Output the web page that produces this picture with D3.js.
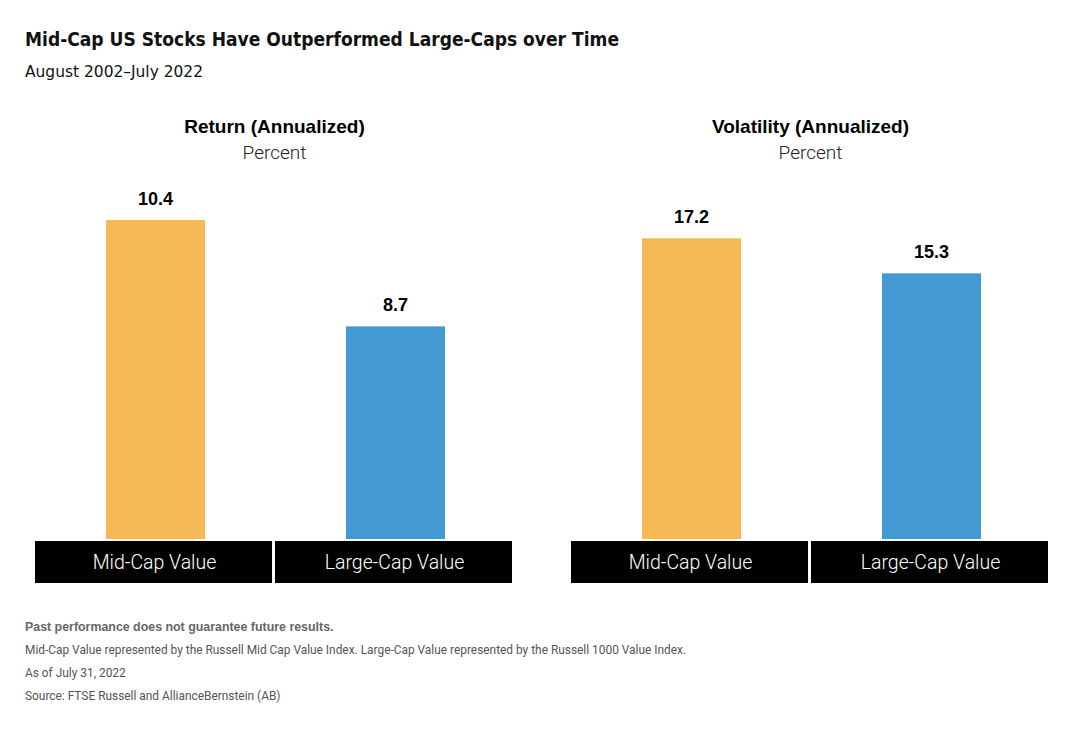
<!DOCTYPE html>
<html lang="en">
<head>
    <meta charset="UTF-8">
    <title>Mid-Cap vs Large-Cap</title>
    <script src="https://d3js.org/d3.v7.min.js"></script>
    <style>
        body { margin: 0; background: #fff; }
        svg { display: block; }
    </style>
</head>
<body>
    <svg id="chart" width="1070" height="740"></svg>
<script>
    const categories = ["Mid-Cap Value", "Large-Cap Value"];
    const returnValues = [10.4, 8.7];
    const volatilityValues = [17.2, 15.3];
    const returnDomain = [5.3, 11.2];
    const volatilityDomain = [0.9, 20.9];
    const panelTitles = ["Return (Annualized)", "Volatility (Annualized)"];
    const notes = [
        "Mid-Cap Value represented by the Russell Mid Cap Value Index. Large-Cap Value represented by the Russell 1000 Value Index.",
        "As of July 31, 2022",
        "Source: FTSE Russell and AllianceBernstein (AB)"
    ];

    const colors = ["#F5BA56", "#4499D2"];
    const svg = d3.select("#chart");

    // header
    svg.append("text")
        .attr("x", 25).attr("y", 46)
        .attr("font-family", "DejaVu Sans Condensed, DejaVu Sans")
        .attr("font-weight", "bold")
        .attr("font-size", 20)
        .attr("textLength", 594)
        .attr("lengthAdjust", "spacingAndGlyphs")
        .attr("fill", "#111")
        .text("Mid-Cap US Stocks Have Outperformed Large-Caps over Time");

    svg.append("text")
        .attr("x", 25).attr("y", 77)
        .attr("font-family", "DejaVu Sans Condensed, DejaVu Sans")
        .attr("font-size", 16)
        .attr("textLength", 178)
        .attr("lengthAdjust", "spacingAndGlyphs")
        .attr("fill", "#111")
        .text("August 2002\u2013July 2022");

    const plotBottom = 539, plotTop = 170;

    function drawPanel(left, right, values, domain, title) {
        const g = svg.append("g");
        const x = d3.scaleBand().domain(categories).range([left, right]).paddingInner(0.0125);
        const y = d3.scaleLinear().domain(domain).range([plotBottom, plotTop]);
        const cx = (left + right) / 2;
        const barW = 99;
        const barShift = 2;

        g.append("text")
            .attr("x", cx + 1).attr("y", 133)
            .attr("text-anchor", "middle")
            .attr("font-family", "Liberation Sans, Arial")
            .attr("font-weight", "bold")
            .attr("font-size", 19)
            .attr("fill", "#000")
            .text(title);
        g.append("text")
            .attr("x", cx + 1).attr("y", 159)
            .attr("text-anchor", "middle")
            .attr("font-family", "Roboto")
            .attr("font-weight", 300)
            .attr("font-size", 19)
            .attr("fill", "#222")
            .text("Percent");

        g.selectAll("rect.bar")
            .data(values)
            .join("rect")
            .attr("class", "bar")
            .attr("x", (d, i) => x(categories[i]) + x.bandwidth() / 2 - barW / 2 + barShift)
            .attr("width", barW)
            .attr("y", d => y(d))
            .attr("height", d => plotBottom - y(d))
            .attr("fill", (d, i) => colors[i]);

        g.selectAll("text.val")
            .data(values)
            .join("text")
            .attr("class", "val")
            .attr("x", (d, i) => x(categories[i]) + x.bandwidth() / 2 + barShift)
            .attr("y", d => y(d) - 15)
            .attr("text-anchor", "middle")
            .attr("font-family", "Liberation Sans, Arial")
            .attr("font-weight", "bold")
            .attr("font-size", 18)
            .attr("fill", "#000")
            .text(d => d.toFixed(1));

        g.selectAll("rect.box")
            .data(categories)
            .join("rect")
            .attr("class", "box")
            .attr("x", d => x(d))
            .attr("width", x.bandwidth())
            .attr("y", plotBottom + 2)
            .attr("height", 42)
            .attr("fill", "#000");

        g.selectAll("text.cat")
            .data(categories)
            .join("text")
            .attr("class", "cat")
            .attr("x", d => x(d) + x.bandwidth() / 2 + 1)
            .attr("y", plotBottom + 30)
            .attr("text-anchor", "middle")
            .attr("font-family", "Roboto")
            .attr("font-weight", 300)
            .attr("font-size", 19.5)
            .attr("fill", "#fff")
            .text(d => d);
    }

    drawPanel(35, 512, returnValues, returnDomain, panelTitles[0]);
    drawPanel(571, 1048, volatilityValues, volatilityDomain, panelTitles[1]);

    // footnotes
    svg.append("text")
        .attr("x", 25).attr("y", 631)
        .attr("font-family", "Liberation Sans, Arial")
        .attr("font-weight", "bold")
        .attr("font-size", 12.4)
        .attr("fill", "#666")
        .text("Past performance does not guarantee future results.");

    svg.selectAll("text.note")
        .data(notes)
        .join("text")
        .attr("class", "note")
        .attr("x", 25)
        .attr("y", (d, i) => 654 + i * 23)
        .attr("font-family", "Roboto")
        .attr("font-size", 11.9)
        .attr("fill", "#555")
        .text(d => d);
</script>
</body>
</html>
